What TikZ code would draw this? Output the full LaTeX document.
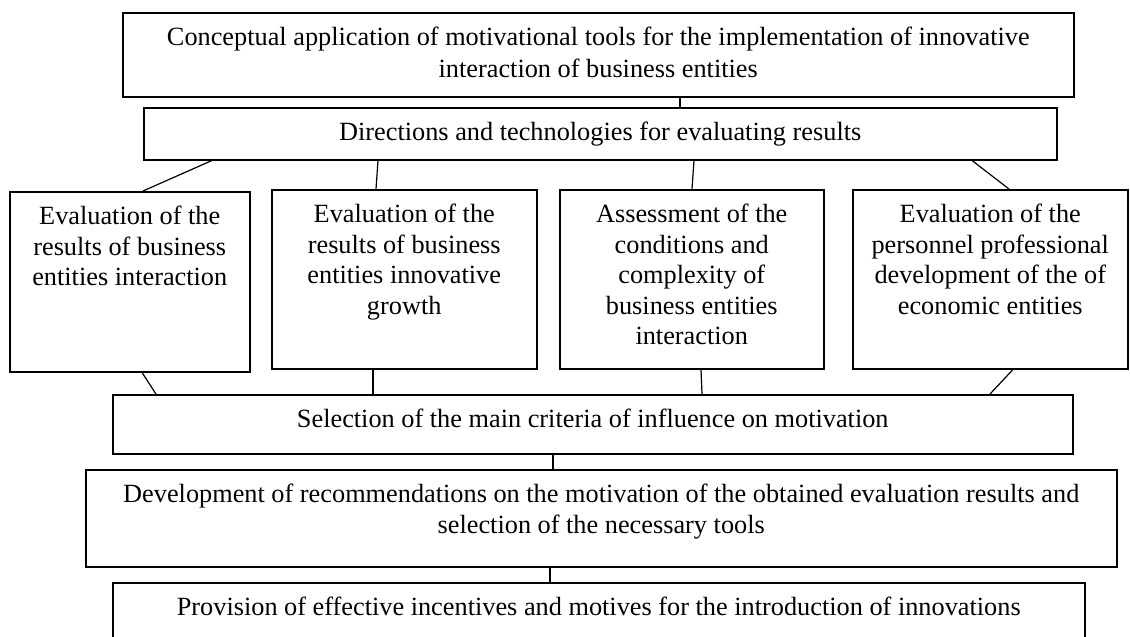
\documentclass[tikz,border=0pt]{standalone}
\usepackage{fontspec}
\setmainfont{Liberation Serif}
\usetikzlibrary{positioning}

% text set from the top of a box of fixed size
\newcommand{\boxtext}[3]{\parbox[t][#2][t]{#1}{\centering\vspace*{11.6pt}\strut #3}}

\begin{document}
\begin{tikzpicture}[x=1pt,y=-1pt]
            \tikzstyle{every node}+=[inner sep=0pt]
            \tikzstyle{box}=[draw, black, line width=1.5pt, anchor=north west, font=\fontsize{26.3}{30.5}\selectfont]
            \tikzstyle{link}=[draw, black, line width=1.2pt]
            \useasboundingbox (0,0) rectangle (1130,637);
            \node[box] (concept) at (122,12) {\boxtext{951pt}{84pt}{Conceptual application of motivational tools for the implementation of innovative\\[1.5pt] interaction of business entities}};
            \node[box] (directions) at (143,107) {\boxtext{913pt}{52pt}{Directions and technologies for evaluating results}};
            \node[box] (evalint) at (9,191) {\boxtext{240pt}{180pt}{Evaluation of the\\ results of business\\ entities interaction}};
            \node[box] (evalgrowth) at (271,189) {\boxtext{265pt}{179pt}{Evaluation of the\\ results of business\\ entities innovative\\ growth}};
            \node[box] (assess) at (559,189) {\boxtext{264pt}{179pt}{Assessment of the\\ conditions and\\ complexity of\\ business entities\\ interaction}};
            \node[box] (personnel) at (852,189) {\boxtext{275pt}{179pt}{Evaluation of the\\ personnel professional\\ development of the of\\ economic entities}};
            \node[box] (selection) at (112,394) {\boxtext{960pt}{59pt}{Selection of the main criteria of influence on motivation}};
            \node[box] (recommend) at (85,469) {\boxtext{1031pt}{97pt}{Development of recommendations on the motivation of the obtained evaluation results and\\ selection of the necessary tools}};
            \node[box] (provision) at (112,582) {\boxtext{972pt}{68pt}{Provision of effective incentives and motives for the introduction of innovations}};
            \draw[link] ([xshift=558pt]concept.south west) -- ([xshift=537pt]directions.north west);
            \draw[link] ([xshift=69pt]directions.south west) -- ([xshift=134pt]evalint.north west);
            \draw[link] ([xshift=235pt]directions.south west) -- ([xshift=105pt]evalgrowth.north west);
            \draw[link] ([xshift=551pt]directions.south west) -- ([xshift=133pt]assess.north west);
            \draw[link] ([xshift=829pt]directions.south west) -- ([xshift=157pt]personnel.north west);
            \draw[link] ([xshift=133pt]evalint.south west) -- ([xshift=44pt]selection.north west);
            \draw[link] ([xshift=102pt]evalgrowth.south west) -- ([xshift=261pt]selection.north west);
            \draw[link] ([xshift=142pt]assess.south west) -- ([xshift=590pt]selection.north west);
            \draw[link] ([xshift=161pt]personnel.south west) -- ([xshift=878pt]selection.north west);
            \draw[link] ([xshift=441pt]selection.south west) -- ([xshift=468pt]recommend.north west);
            \draw[link] ([xshift=465pt]recommend.south west) -- ([xshift=438pt]provision.north west);
        \end{tikzpicture}
\end{document}
